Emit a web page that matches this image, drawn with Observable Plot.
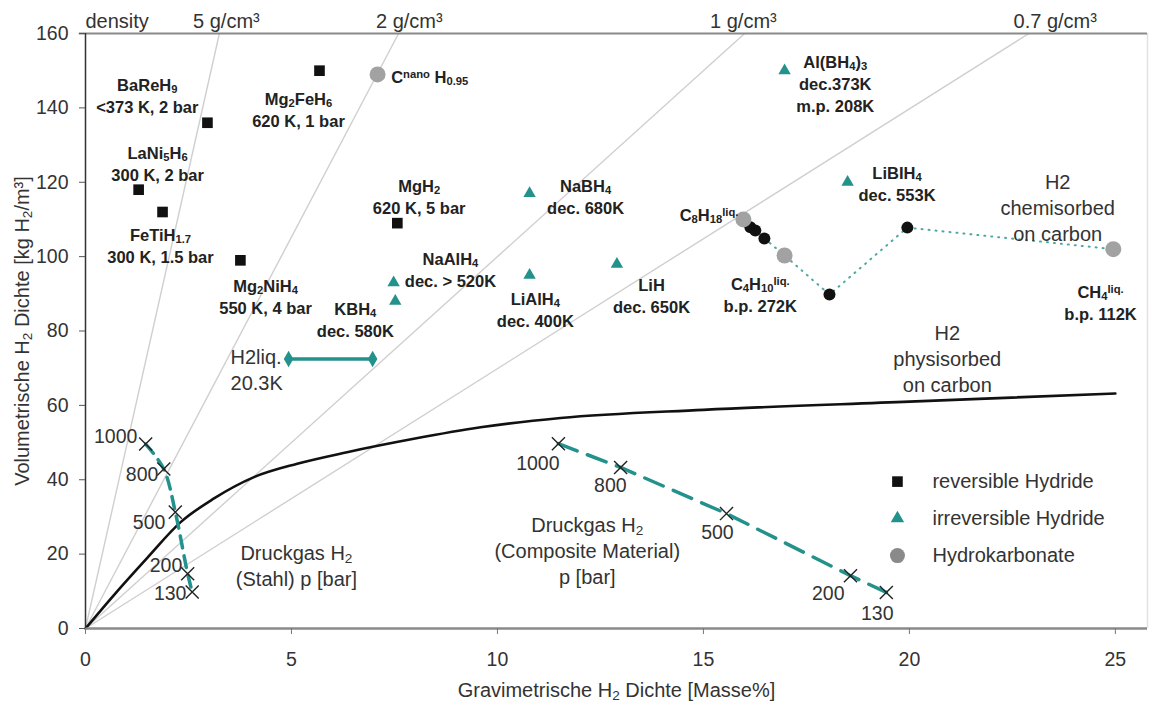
<!DOCTYPE html>
<html>
<head>
<meta charset="utf-8">
<script src="https://cdn.jsdelivr.net/npm/d3@7"></script>
<script src="https://cdn.jsdelivr.net/npm/@observablehq/plot@0.6"></script>
<style>
  html, body { margin: 0; padding: 0; background: #fff; }
  #chart { width: 1151px; height: 704px; }
</style>
</head>
<body>
<div id="chart"></div>
<script>
// ---------- data ----------
const xTicks = [0, 5, 10, 15, 20, 25];
const yTicks = [0, 20, 40, 60, 80, 100, 120, 140, 160];

// density iso-lines (g/cm³): x where each line meets the top (160 kg/m³)
const densityNames = ["5 g/cm³", "2 g/cm³", "1 g/cm³", "0.7 g/cm³"];
const densityTopX = [3.25, 7.6, 16.0, 22.9];
const densityLabelX = [3.42, 7.86, 15.97, 23.54];

// reversible hydrides (black squares)
const revX = [2.96, 5.68, 1.29, 1.87, 3.76, 7.57];
const revY = [136, 150, 118, 112, 99, 109];
const revText = ["BaReH_{9}\n<373 K, 2 bar", "Mg_{2}FeH_{6}\n620 K, 1 bar", "LaNi_{5}H_{6}\n300 K, 2 bar",
                 "FeTiH_{1.7}\n300 K, 1.5 bar", "Mg_{2}NiH_{4}\n550 K, 4 bar", "MgH_{2}\n620 K, 5 bar"];
const revLabelX = [1.50, 5.17, 1.75, 1.82, 4.37, 8.10];
const revLabelY = [143.5, 139.7, 125.3, 103.2, 89.5, 116.4];

// irreversible hydrides (teal triangles)
const irrX = [16.97, 10.78, 7.48, 7.52, 10.78, 12.9, 18.5];
const irrY = [150, 117, 93, 88, 95, 98, 120];
const irrText = ["Al(BH_{4})_{3}\ndec.373K\nm.p. 208K", "NaBH_{4}\ndec. 680K", "NaAlH_{4}\ndec. > 520K",
                 "KBH_{4}\ndec. 580K", "LiAlH_{4}\ndec. 400K", "LiH\ndec. 650K", "LiBIH_{4}\ndec. 553K"];
const irrLabelX = [18.2, 12.14, 8.86, 6.55, 10.92, 13.74, 19.7];
const irrLabelY = [146.8, 116.3, 96.6, 83.2, 86.0, 89.7, 119.9];

// hydrocarbons (grey circles)
const hcX = [7.09, 15.97, 16.97, 24.95];
const hcY = [149, 110, 100.3, 102];
const hcText = ["C^{nano} H_{0.95}", "C_{8}H_{18}^{liq.}", "C_{4}H_{10}^{liq.}\nb.p. 272K", "CH_{4}^{liq.}\nb.p. 112K"];
const hcLabelX = [7.42, 15.85, 16.38, 24.64];
const hcLabelY = [148.7, 111.6, 89.9, 87.9];
const hcAnchor = ["start", "end", "middle", "middle"];

// chemisorbed on carbon (black dots + dotted path)
const chemX = [16.14, 16.26, 16.48, 18.06, 19.95];
const chemY = [107.9, 107.0, 104.9, 89.8, 107.8];
const chemPathX = [16.48, 16.97, 18.06, 19.95, 24.95];
const chemPathY = [104.9, 100.3, 89.8, 107.8, 102];

// physisorbed on carbon (black curve)
const physX = [0, 0.69, 1.5, 2.31, 3.11, 4.09, 5.14, 6.35, 7.97, 9.59, 11.53, 15, 20, 25];
const physY = [0, 9.0, 19.0, 28.6, 34.9, 40.7, 44.3, 47.4, 51.0, 54.1, 56.6, 58.8, 61.0, 63.2];

// compressed gas, steel tank
const steelP = ["1000", "800", "500", "200", "130"];
const steelX = [1.46, 1.90, 2.18, 2.48, 2.59];
const steelY = [49.6, 42.9, 31.3, 14.7, 9.8];
const steelLabelX = [1.26, 1.77, 1.94, 2.35, 2.45];
const steelLabelY = [51.6, 41.4, 28.5, 16.9, 9.4];

// compressed gas, composite tank
const compP = ["1000", "800", "500", "200", "130"];
const compX = [11.48, 12.99, 15.56, 18.57, 19.44];
const compY = [49.7, 43.3, 30.9, 14.2, 9.7];
const compLabelX = [10.98, 12.74, 15.34, 18.03, 19.22];
const compLabelY = [44.4, 38.4, 25.8, 9.4, 4.0];

// liquid hydrogen
const liqX = [4.93, 6.97];
const liqY = [72.5, 72.5];

// free annotations
const noteText = ["H2\nchemisorbed\non carbon", "H2\nphysisorbed\non carbon", "H2liq.\n20.3K",
                  "Druckgas H_{2}\n(Stahl) p [bar]", "Druckgas H_{2}\n(Composite Material)\np [bar]"];
const noteX = [23.6, 20.92, 3.52, 5.12, 12.18];
const noteY = [113.4, 72.7, 70.0, 17.2, 21.2];
const noteAnchor = ["middle", "middle", "start", "middle", "middle"];

const legendNames = ["reversible Hydride", "irreversible Hydride", "Hydrokarbonate"];

// ---------- build ----------
const zip = (xs, ys, extra = {}) => xs.map((x, i) => {
  const o = {x, y: ys[i]};
  for (const k in extra) o[k] = extra[k][i];
  return o;
});
// one text mark per text-anchor value
const anchoredText = (data, opts) => ["start", "middle", "end"].map(a =>
  Plot.text(data.filter(d => (d.a || "middle") === a), {...opts, textAnchor: a}));

const TEAL = "#23918c";
const XMAX = 25.78;

const densityLines = densityTopX.map((x) => ({x1: 0, y1: 0, x2: x, y2: 160}));
const densityLbl = [{x: 0, t: "density", a: "start"}].concat(densityNames.map((t, i) => ({x: densityLabelX[i], t, a: "middle"})));

const rev = zip(revX, revY);
const revL = zip(revLabelX, revLabelY, {t: revText});
const irr = zip(irrX, irrY);
const irrL = zip(irrLabelX, irrLabelY, {t: irrText});
const hc = zip(hcX, hcY);
const hcL = zip(hcLabelX, hcLabelY, {t: hcText, a: hcAnchor});
const chem = zip(chemX, chemY);
const chemPath = zip(chemPathX, chemPathY);
const phys = zip(physX, physY);
const steel = zip(steelX, steelY);
const steelL = zip(steelLabelX, steelLabelY, {t: steelP});
const comp = zip(compX, compY);
const compL = zip(compLabelX, compLabelY, {t: compP});
const liq = zip(liqX, liqY);
const notes = zip(noteX, noteY, {t: noteText, a: noteAnchor});

const legX = 19.71, legTX = 20.56, legY = [39.5, 29.6, 19.6];
const legend = legendNames.map((t, i) => ({x: legX, tx: legTX, y: legY[i], t}));

const FONT = "'Liberation Sans', Arial, Helvetica, sans-serif";
const BOLD = {fontSize: 16.5, fontWeight: "bold", fill: "#222", lineHeight: 1.34};

const chart = Plot.plot({
  width: 1151,
  height: 704,
  marginLeft: 85,
  marginRight: 4,
  marginTop: 33,
  marginBottom: 76,
  style: {fontFamily: FONT, fontSize: "20px", color: "#333", background: "#fff", overflow: "visible"},
  x: {domain: [0, XMAX], axis: null},
  y: {domain: [0, 160], axis: null},
  marks: [
    Plot.ruleX([XMAX], {stroke: "#e2e2e2", strokeWidth: 1.5}),
    // density lines
    Plot.link(densityLines, {x1: "x1", y1: "y1", x2: "x2", y2: "y2", stroke: "#cfcfcf", strokeWidth: 1.4}),
    ...anchoredText(densityLbl, {x: "x", y: () => 160, text: "t", dy: -12, fontSize: 20, fill: "#333"}),
    // physisorbed curve
    Plot.line(phys, {x: "x", y: "y", stroke: "#111", strokeWidth: 2.6, curve: "monotone-x"}),
    // steel tank
    Plot.line(steel, {x: "x", y: "y", stroke: TEAL, strokeWidth: 3.5, strokeDasharray: "12,8", curve: "catmull-rom"}),
    Plot.dot(steel, {x: "x", y: "y", symbol: "times", r: 6, stroke: "#222", strokeWidth: 1.4}),
    Plot.text(steelL, {x: "x", y: "y", text: "t", textAnchor: "end", fontSize: 19.5, fill: "#333"}),
    // composite tank
    Plot.line(comp, {x: "x", y: "y", stroke: TEAL, strokeWidth: 3.5, strokeDasharray: "20,11"}),
    Plot.dot(comp, {x: "x", y: "y", symbol: "times", r: 6, stroke: "#222", strokeWidth: 1.4}),
    Plot.text(compL, {x: "x", y: "y", text: "t", textAnchor: "middle", fontSize: 19.5, fill: "#333"}),
    // liquid hydrogen
    Plot.line(liq, {x: "x", y: "y", stroke: TEAL, strokeWidth: 3.5}),
    Plot.dot(liq, {x: "x", y: "y", symbol: "diamond", r: 5, fill: TEAL, stroke: "none"}),
    // chemisorbed dotted path
    Plot.line(chemPath, {x: "x", y: "y", stroke: TEAL, strokeWidth: 2, strokeDasharray: "1,6", strokeLinecap: "round", strokeOpacity: 0.8}),
    Plot.dot(chem, {x: "x", y: "y", r: 6, fill: "#111", stroke: "none"}),
    // hydrocarbons
    Plot.dot(hc, {x: "x", y: "y", r: 8, fill: "#a2a2a2", stroke: "none"}),
    ...anchoredText(hcL, {x: "x", y: "y", text: "t", ...BOLD}),
    // reversible hydrides
    Plot.dot(rev, {x: "x", y: "y", symbol: "square", r: 6, fill: "#111", stroke: "none"}),
    Plot.text(revL, {x: "x", y: "y", text: "t", ...BOLD}),
    // irreversible hydrides
    Plot.dot(irr, {x: "x", y: "y", symbol: "triangle", r: 4.6, fill: TEAL, stroke: "none"}),
    Plot.text(irrL, {x: "x", y: "y", text: "t", ...BOLD}),
    // annotations
    ...anchoredText(notes, {x: "x", y: "y", text: "t", fontSize: 20, fill: "#333", lineHeight: 1.3}),
    // legend
    Plot.dot(legend.slice(0, 1), {x: "x", y: "y", symbol: "square", r: 6, fill: "#111"}),
    Plot.dot(legend.slice(1, 2), {x: "x", y: "y", symbol: "triangle", r: 5, fill: TEAL}),
    Plot.dot(legend.slice(2, 3), {x: "x", y: "y", r: 7.5, fill: "#8a8a8a"}),
    Plot.text(legend, {x: "tx", y: "y", text: "t", textAnchor: "start", fontSize: 20, fill: "#333"}),
    // axes
    Plot.ruleY([160], {x1: -0.15, x2: XMAX, stroke: "#8a8a8a", strokeWidth: 2}),
    Plot.ruleY([0], {x1: 0, x2: XMAX, stroke: "#8a8a8a", strokeWidth: 2.5}),
    Plot.ruleX([0], {y1: 0, y2: 160, stroke: "#333", strokeWidth: 1.5}),
    Plot.axisY(yTicks, {tickSize: 6, tickPadding: 11, label: null, fontSize: 19.5, stroke: "#555", fill: "#333"}),
    Plot.axisX(xTicks, {tickSize: 6, tickPadding: 18, label: null, fontSize: 19.5, stroke: "#777", fill: "#333"}),
    Plot.text(["Gravimetrische H_{2} Dichte [Masse%]"], {frameAnchor: "bottom", dy: 62, lineAnchor: "middle", textAnchor: "middle", fontSize: 20, fill: "#333"}),
    Plot.text(["Volumetrische H_{2} Dichte [kg H_{2}/m³]"], {frameAnchor: "left", dx: -63, rotate: -90, textAnchor: "middle", lineAnchor: "middle", fontSize: 20, fill: "#333"})
  ]
});

// rich text: _{..} -> subscript, ^{..} -> superscript
function richify(el) {
  const s = el.textContent;
  el.textContent = "";
  const re = /([_^])\{([^}]*)\}|([^_^]+|[_^])/g;
  let m;
  while ((m = re.exec(s)) !== null) {
    const ts = document.createElementNS("http://www.w3.org/2000/svg", "tspan");
    if (m[1]) {
      ts.textContent = m[2];
      ts.setAttribute("font-size", "68%");
      ts.setAttribute("baseline-shift", m[1] === "_" ? "-22%" : "45%");
    } else {
      ts.textContent = m[3];
    }
    el.appendChild(ts);
  }
}
chart.querySelectorAll("text, tspan").forEach(el => {
  if (el.children.length === 0 && /[_^]\{/.test(el.textContent)) richify(el);
});

document.getElementById("chart").appendChild(chart);
</script>
</body>
</html>
